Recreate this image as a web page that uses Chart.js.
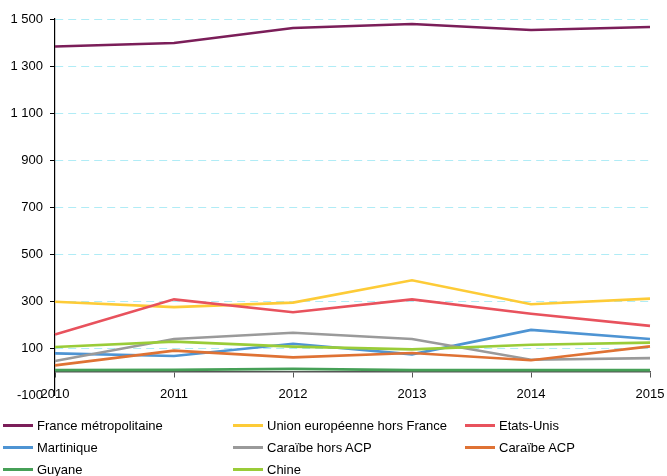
<!DOCTYPE html>
<html>
<head>
<meta charset="utf-8">
<script src="https://cdn.jsdelivr.net/npm/chart.js@4.4.0/dist/chart.umd.min.js"></script>
<style>
  html, body { margin: 0; padding: 0; background: #fff; }
  body { width: 667px; height: 476px; position: relative; overflow: hidden; font-family: "Liberation Sans", Arial, sans-serif; }
  #wrap { position: absolute; left: 0; top: 0; width: 667px; height: 410px; }
  #legend { position: absolute; left: 0; top: 0; width: 667px; height: 476px; pointer-events: none; }
  .item { position: absolute; height: 16px; display: flex; align-items: center; font-size: 13px; color: #000; white-space: nowrap; }
  .sw { width: 30px; height: 3px; margin-right: 4px; }
</style>
</head>
<body>
<div id="wrap"><canvas id="c" width="667" height="410"></canvas></div>
<div id="legend"></div>
<script>
// ---- data ----
const years = ['2010', '2011', '2012', '2013', '2014', '2015'];
const franceMetro      = [1383, 1398, 1462, 1479, 1453, 1466];
const unionEuropeenne  = [297, 274, 293, 388, 286, 310];
const etatsUnis        = [157, 307, 252, 307, 246, 194];
const martinique       = [77, 66, 118, 73, 177, 138];
const caraibeHorsACP   = [45, 138, 165, 138, 50, 57];
const caraibeACP       = [26, 89, 60, 79, 48, 107];
const guyane           = [6, 7, 11, 6, 6, 6];
const chine            = [104, 127, 106, 94, 114, 123];
const seriesNames = ['France métropolitaine', 'Union européenne hors France', 'Etats-Unis',
                     'Martinique', 'Caraïbe hors ACP', 'Caraïbe ACP', 'Guyane', 'Chine'];
const yMin = -100, yMax = 1500, yStep = 200;

// ---- styles ----
const colors = ['#7B1E59', '#FDCB37', '#E8525D', '#4E94D3', '#9A9A9A', '#DF7234', '#46A057', '#9ACC38'];
const seriesValues = [franceMetro, unionEuropeenne, etatsUnis, martinique, caraibeHorsACP, caraibeACP, guyane, chine];

const datasets = seriesNames.map((name, i) => ({
  label: name,
  data: seriesValues[i],
  borderColor: colors[i],
  backgroundColor: colors[i],
  borderWidth: 2.6,
  pointRadius: 0,
  pointHoverRadius: 0,
  tension: 0,
  fill: false,
  order: seriesNames.length - i
}));

const fmt = v => String(v).replace(/\B(?=(\d{3})+(?!\d))/g, ' ');
const FONT = { family: '"Liberation Sans", Arial, sans-serif', size: 13 };

new Chart(document.getElementById('c'), {
  type: 'line',
  data: { labels: years, datasets },
  options: {
    responsive: false,
    animation: false,
    devicePixelRatio: 1,
    layout: { padding: { left: 0, right: 17, top: 19, bottom: 15 } },
    plugins: { legend: { display: false }, tooltip: { enabled: false } },
    scales: {
      x: {
        type: 'category',
        position: { y: 0 },
        offset: false,
        afterFit: s => { s.paddingLeft = 0; s.paddingRight = 0; },
        grid: { drawOnChartArea: false, drawTicks: true, tickLength: 5, tickColor: '#555', lineWidth: 1 },
        border: { display: true, color: '#555', width: 1.5 },
        ticks: { font: FONT, color: '#000', padding: 10, maxRotation: 0, autoSkip: false,
                 showLabelBackdrop: true, backdropColor: '#fff', backdropPadding: 0 }
      },
      y: {
        min: yMin, max: yMax,
        afterFit: s => { s.width = 55; s.paddingTop = 0; s.paddingBottom = 0; },
        grid: {
          drawOnChartArea: true,
          tickLength: 5,
          color: ctx => (ctx.tick && ctx.tick.value === yMin) ? 'rgba(0,0,0,0)' : '#B0ECF6',
          tickColor: '#000',
          lineWidth: 1
        },
        border: { display: true, color: '#000', width: 1.2, dash: [8, 5] },
        ticks: { stepSize: yStep, font: FONT, color: '#000', padding: 7, callback: v => fmt(v) }
      }
    }
  }
});

// ---- legend (HTML) ----
const colX = [3, 233, 465];
const rowY = [425, 447, 469];
const lg = document.getElementById('legend');
seriesNames.forEach((name, i) => {
  const d = document.createElement('div');
  d.className = 'item';
  d.style.left = colX[i % 3] + 'px';
  d.style.top = (rowY[Math.floor(i / 3)] - 8) + 'px';
  const sw = document.createElement('span');
  sw.className = 'sw';
  sw.style.background = colors[i];
  const t = document.createElement('span');
  t.textContent = name;
  d.appendChild(sw); d.appendChild(t);
  lg.appendChild(d);
});
</script>
</body>
</html>
